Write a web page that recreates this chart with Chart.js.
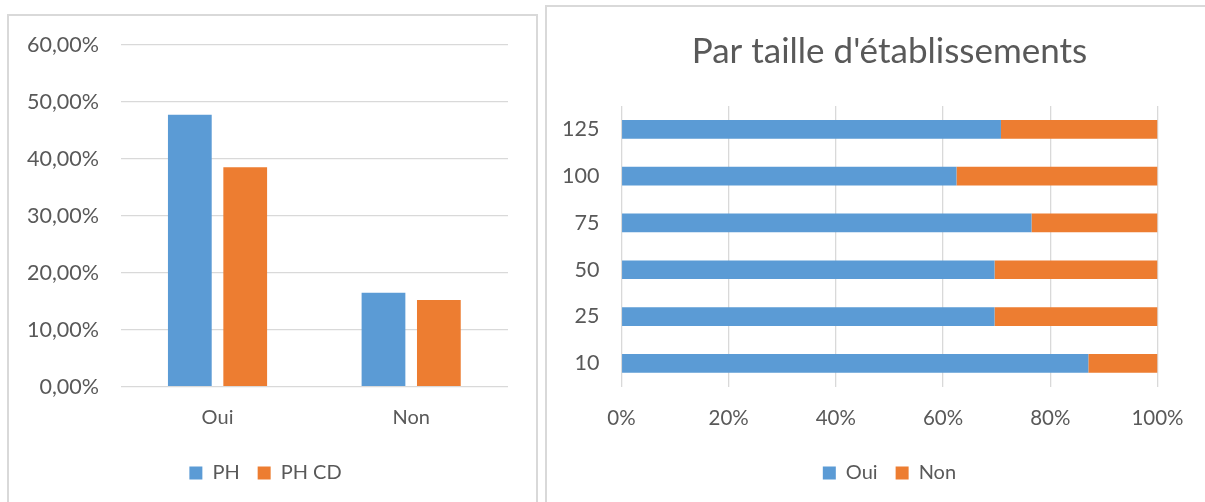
<!DOCTYPE html>
<html><head><meta charset="utf-8">
<script src="https://cdn.jsdelivr.net/npm/chart.js@4.4.0/dist/chart.umd.min.js"></script>
<style>
html,body{margin:0;padding:0;background:#fff;overflow:hidden;width:1205px;height:502px;position:relative}
.box{position:absolute;border:2px solid #d9d9d9;box-sizing:border-box;background:#fff}
#b1{left:7px;top:14px;width:531px;height:540px}
#b2{left:545px;top:5px;width:700px;height:540px}
canvas{position:absolute}
#c1{left:9px;top:16px}
#c2{left:547px;top:7px}
</style></head>
<body>
<div class="box" id="b1"></div>
<div class="box" id="b2"></div>
<canvas id="c1" width="526" height="486"></canvas>
<canvas id="c2" width="667" height="495"></canvas>
<script>
// ---- Data: left chart ----
const answers = ['Oui', 'Non'];
const valuesPH = [47.7, 16.5];
const valuesPHCD = [38.5, 15.2];
const seriesLeft = ['PH', 'PH CD'];

// ---- Data: right chart ----
const chartTitle = "Par taille d'établissements";
const sizes = ['125', '100', '75', '50', '25', '10'];
const valuesOui = [70.8, 62.5, 76.5, 69.6, 69.6, 87.1];
const valuesNon = [29.2, 37.5, 23.5, 30.4, 30.4, 12.9];
const seriesRight = ['Oui', 'Non'];

const BLUE = '#5B9BD5', ORANGE = '#ED7D31', GRID = '#d9d9d9', TXT = '#595959';
Chart.defaults.font.family = 'Lato';
Chart.defaults.color = TXT;
Chart.defaults.animation = false;

const legendLabels = { boxWidth: 13, boxHeight: 13, padding: 18, color: TXT, font: { size: 20 } };

new Chart(document.getElementById('c1'), {
  type: 'bar',
  data: {
    labels: answers,
    datasets: [
      { label: seriesLeft[0], data: valuesPH, backgroundColor: BLUE, borderWidth: 0 },
      { label: seriesLeft[1], data: valuesPHCD, backgroundColor: ORANGE, borderWidth: 0 }
    ]
  },
  options: {
    responsive: false,
    categoryPercentage: 0.572,
    barPercentage: 0.79,
    layout: { padding: { left: 14, top: 28.7, right: 27, bottom: 9 } },
    plugins: {
      legend: { position: 'bottom', labels: legendLabels },
      tooltip: { enabled: false }
    },
    scales: {
      x: {
        grid: { display: false, drawTicks: false },
        border: { display: false },
        ticks: { padding: 19, color: TXT, font: { size: 20 } },
        afterFit: s => { s.height = 58.3; }
      },
      y: {
        min: 0, max: 60,
        ticks: { stepSize: 10, padding: 21.7, color: TXT, font: { size: 21.5 },
          callback: v => v.toFixed(2).replace('.', ',') + '%' },
        grid: { color: GRID, lineWidth: 1.3, drawTicks: false },
        border: { display: false },
        afterFit: s => { s.width = 97.7; s.paddingTop = 0; s.paddingBottom = 0; }
      }
    }
  }
});

new Chart(document.getElementById('c2'), {
  type: 'bar',
  data: {
    labels: sizes,
    datasets: [
      { label: seriesRight[0], data: valuesOui, backgroundColor: BLUE, borderWidth: 0 },
      { label: seriesRight[1], data: valuesNon, backgroundColor: ORANGE, borderWidth: 0 }
    ]
  },
  options: {
    responsive: false,
    indexAxis: 'y',
    categoryPercentage: 1,
    barPercentage: 0.4,
    layout: { padding: { left: 0, top: 0, right: 56.5, bottom: 9 } },
    plugins: {
      title: { display: true, fullSize: false, text: chartTitle, color: TXT,
        font: { size: 35, weight: 'normal' }, padding: { top: 24, bottom: 33 } },
      legend: { position: 'bottom', fullSize: false, labels: legendLabels },
      tooltip: { enabled: false }
    },
    scales: {
      x: {
        stacked: true, min: 0, max: 100,
        ticks: { stepSize: 20, padding: 19, color: TXT, font: { size: 20.5 }, callback: v => v + '%' },
        grid: { color: GRID, lineWidth: 1.3, drawTicks: false },
        border: { display: false },
        afterFit: s => { s.height = 58.3; }
      },
      y: {
        stacked: true,
        grid: { display: false, drawTicks: false },
        border: { display: false },
        ticks: { padding: 22, color: TXT, font: { size: 21.5 } },
        afterFit: s => { s.width = 74.4; s.paddingTop = 0; s.paddingBottom = 0; }
      }
    }
  }
});
</script>
</body></html>
